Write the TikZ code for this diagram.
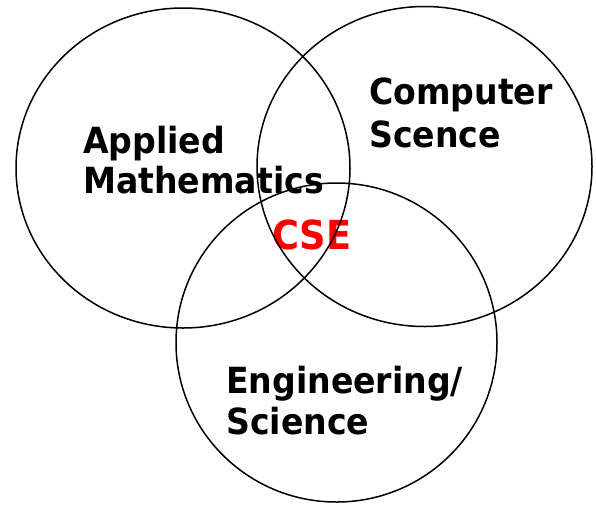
\documentclass[tikz,border=0pt]{standalone}
\usepackage{fontspec}
\usetikzlibrary{shapes.geometric}
\newfontfamily\labfont[FakeStretch=0.92]{DejaVu Sans Bold}
\begin{document}
\begin{tikzpicture}[x=1pt,y=-1pt,
  ring/.style={draw=black,line width=1.5pt,ellipse,inner sep=0pt},
  lab/.style={anchor=base west,inner sep=0pt,font=\labfont\fontsize{36}{40}\selectfont},
  cse/.style={anchor=base west,inner sep=0pt,text=red,font=\labfont\fontsize{40}{44}\selectfont}]
\useasboundingbox[fill=white] (0,0) rectangle (596,504);
\node[lab] (am1) at (83,153) {Applied};
\node[lab] (am2) at (83,193) {Mathematics};
\node[lab] (cs1) at (369,104) {Computer};
\node[lab] (cs2) at (369,147) {Scence};
\node[lab] (es1) at (226,393) {Engineering/};
\node[lab] (es2) at (226,434) {Science};
\node[cse] (cse) at (272,249) {CSE};
\node[ring,minimum width=334pt,minimum height=320pt] (am) at (183,168) {};
\node[ring,minimum width=335pt,minimum height=320pt] (cs) at (424.5,166.5) {};
\node[ring,minimum width=321pt,minimum height=319pt] (es) at (336.5,342.5) {};
\end{tikzpicture}
\end{document}
